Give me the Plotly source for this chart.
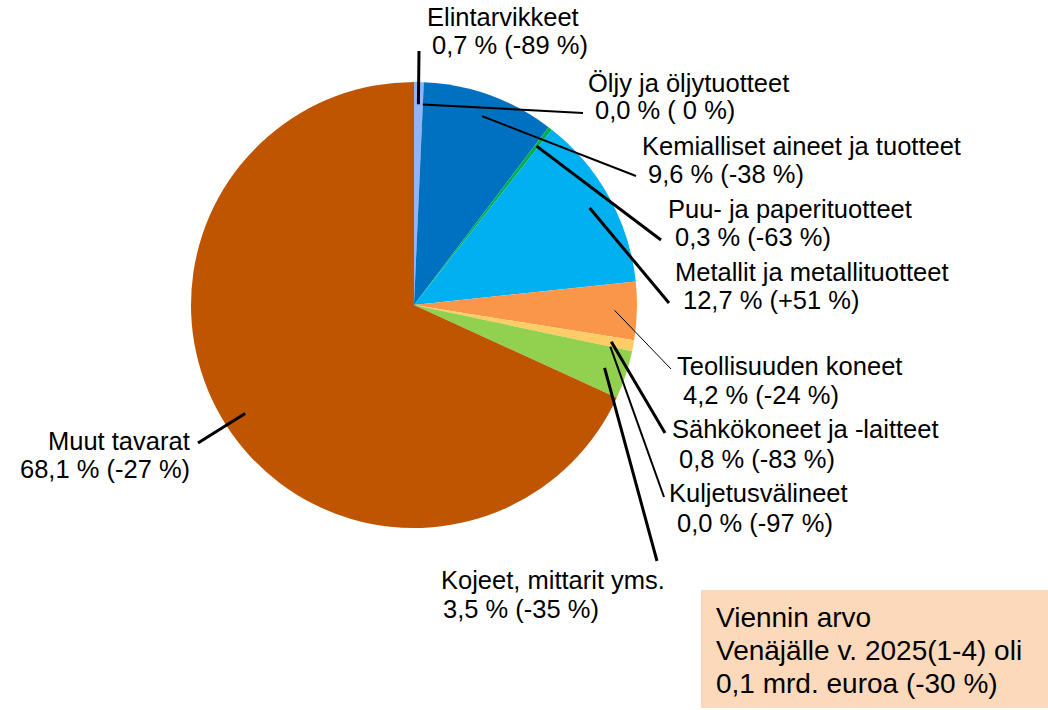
import math
import plotly.graph_objects as go

# ---------------- data ----------------
categories = [
    "Elintarvikkeet",
    "Öljy ja öljytuotteet",
    "Kemialliset aineet ja tuotteet",
    "Puu- ja paperituotteet",
    "Metallit ja metallituotteet",
    "Teollisuuden koneet",
    "Sähkökoneet ja -laitteet",
    "Kuljetusvälineet",
    "Kojeet, mittarit yms.",
    "Muut tavarat",
]
shares = [0.7, 0.0, 9.6, 0.3, 12.7, 4.2, 0.8, 0.0, 3.5, 68.1]
changes = ["-89 %", " 0 %", "-38 %", "-63 %", "+51 %", "-24 %", "-83 %", "-97 %", "-35 %", "-27 %"]
box_lines = ["Viennin arvo", "Venäjälle v. 2025(1-4) oli", "0,1 mrd. euroa (-30 %)"]

colors = ["#8FB4F8", "#7F7F7F", "#0070C0", "#00B050", "#00B0F0",
          "#F9964A", "#FFCC66", "#5B9BD5", "#92D050", "#BF5500"]

# ---------------- layout constants (pixels) ----------------
W, H = 1048, 710
CX, CY, R = 414, 305, 223
FONT = "Arial, Liberation Sans, sans-serif"
LBL_SIZE = 25.5
BOX_SIZE = 28

# label placement: (line1 x, line1 y, line2 x, line2 y, anchor, leader outer end, leader width)
placements = [
    (425, 17, 430, 45, "left", (419, 51), 3),
    (586, 83, 593, 110, "left", (583, 113), 2),
    (640, 146, 646, 174, "left", (636, 176), 2),
    (666, 209, 673, 237, "left", (661, 240), 3),
    (673, 272, 681, 300, "left", (669, 303), 3),
    (675, 366, 681, 395, "left", (671, 369), 1),
    (670, 429, 677, 459, "left", (665, 433), 3),
    (667, 493, 675, 523, "left", (664, 497), 2),
    (439, 580, 441, 609, "left", (657, 561), 3),
    (192, 441, 192, 469, "right", (198, 443), 3),
]


def px(x):
    return x / W


def py(y):
    return 1 - y / H


def fmt_pct(v):
    return f"{v:.1f}".replace(".", ",") + " %"


fig = go.Figure()
fig.add_trace(go.Pie(
    labels=categories,
    values=shares,
    sort=False,
    direction="clockwise",
    rotation=0,
    marker=dict(colors=colors, line=dict(width=0)),
    textinfo="none",
    hoverinfo="label+percent",
    showlegend=False,
    domain=dict(x=[px(CX - R), px(CX + R)], y=[py(CY + R), py(CY - R)]),
))

shapes = []
annotations = []
total = sum(shares)
cum = 0.0
for cat, val, chg, plc in zip(categories, shares, changes, placements):
    mid = (cum + val / 2) / total * 2 * math.pi
    cum += val
    x1, y1, x2, y2, anchor, (ox, oy), lw = plc
    ix = CX + 0.9 * R * math.sin(mid)
    iy = CY - 0.9 * R * math.cos(mid)
    shapes.append(dict(type="line", xref="paper", yref="paper",
                       x0=px(ix), y0=py(iy), x1=px(ox), y1=py(oy),
                       line=dict(color="black", width=lw)))
    for xx, yy, txt in ((x1, y1, cat), (x2, y2, fmt_pct(val) + " (" + chg + ")")):
        annotations.append(dict(x=px(xx), y=py(yy), xref="paper", yref="paper",
                                text=txt, showarrow=False, xanchor=anchor,
                                yanchor="middle",
                                font=dict(family=FONT, size=LBL_SIZE, color="black")))

# info box
shapes.append(dict(type="rect", xref="paper", yref="paper",
                   x0=px(701), y0=py(708), x1=px(W), y1=py(590),
                   fillcolor="#FCD9BA", line=dict(width=0), layer="below"))
for i, t in enumerate(box_lines):
    annotations.append(dict(x=px(714), y=py(617 + 33 * i), xref="paper", yref="paper",
                            text=t, showarrow=False, xanchor="left", yanchor="middle",
                            font=dict(family=FONT, size=BOX_SIZE, color="black")))

fig.update_layout(
    width=W, height=H,
    margin=dict(l=0, r=0, t=0, b=0),
    paper_bgcolor="white",
    plot_bgcolor="white",
    shapes=shapes,
    annotations=annotations,
    showlegend=False,
)

fig.write_html("out.html", config={"displayModeBar": False},
               post_script="document.body.style.margin='0';")
